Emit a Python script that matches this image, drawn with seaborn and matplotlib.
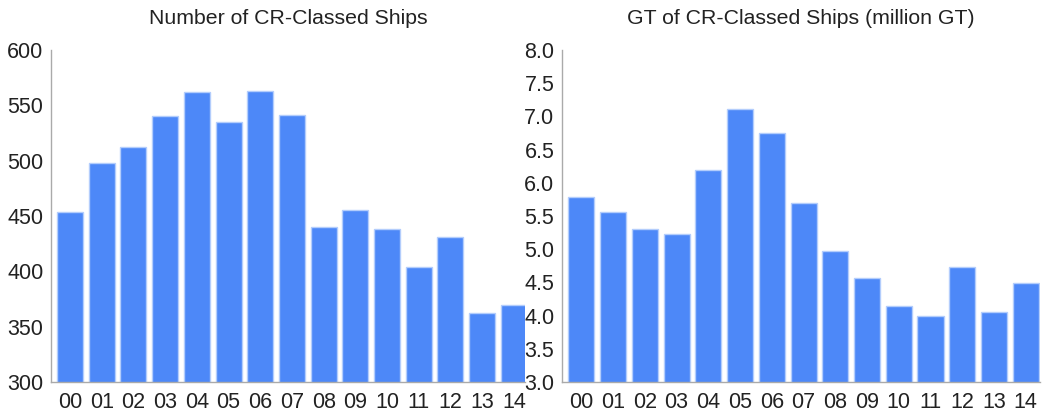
import matplotlib
matplotlib.use("Agg")
import matplotlib.pyplot as plt
import seaborn as sns
import numpy as np

years = ["00", "01", "02", "03", "04", "05", "06", "07", "08", "09", "10", "11", "12", "13", "14"]
num_ships = [454, 498, 512, 540, 562, 535, 563, 541, 440, 455, 438, 404, 431, 362, 370]
gt_ships = [5.78, 5.56, 5.31, 5.23, 6.20, 7.11, 6.75, 5.70, 4.98, 4.56, 4.14, 4.00, 4.73, 4.06, 4.49]

left_ticks = [300, 350, 400, 450, 500, 550, 600]
right_ticks = [3.0, 3.5, 4.0, 4.5, 5.0, 5.5, 6.0, 6.5, 7.0, 7.5, 8.0]

bar_color = "#4d88f8"
edge_color = "#b3cdfc"
spine_color = "#aaaaaa"
text_color = "#222222"

sns.set_style("white")
plt.rcParams["font.family"] = ["Liberation Sans", "DejaVu Sans"]

fig = plt.figure(figsize=(10.44, 4.16), dpi=100)
ax1 = fig.add_axes([51 / 1044, 1 - 382 / 416, 474 / 1044, 332 / 416])
ax2 = fig.add_axes([562 / 1044, 1 - 382 / 416, 478 / 1044, 332 / 416])


def draw(ax, values, ticks, ylim, xlim, title, fmt):
    sns.barplot(x=years, y=values, color=bar_color, saturation=1, width=0.82,
                edgecolor=edge_color, linewidth=1.0, ax=ax)
    ax.set_ylim(*ylim)
    ax.set_xlim(*xlim)
    ax.set_yticks(ticks)
    ax.set_yticklabels([fmt.format(t) for t in ticks])
    for side in ["top", "right"]:
        ax.spines[side].set_visible(False)
    for side in ["left", "bottom"]:
        ax.spines[side].set_color(spine_color)
        ax.spines[side].set_linewidth(1.0)
    ax.tick_params(axis="both", which="major", length=4, width=0.8,
                   color=spine_color, labelsize=15.5, labelcolor=text_color, pad=1.5)
    ax.tick_params(axis="x", pad=3)
    ax.set_title(title, fontsize=15.3, color=text_color, pad=19)
    ax.set_xlabel("")
    ax.set_ylabel("")


draw(ax1, num_ships, left_ticks, (300, 600), (-0.6, 14.35),
     "Number of CR-Classed Ships", "{:.0f}")
draw(ax2, gt_ships, right_ticks, (3.0, 8.0), (-0.61, 14.45),
     "GT of CR-Classed Ships (million GT)", "{:.1f}")

fig.savefig("out.png", dpi=100)
